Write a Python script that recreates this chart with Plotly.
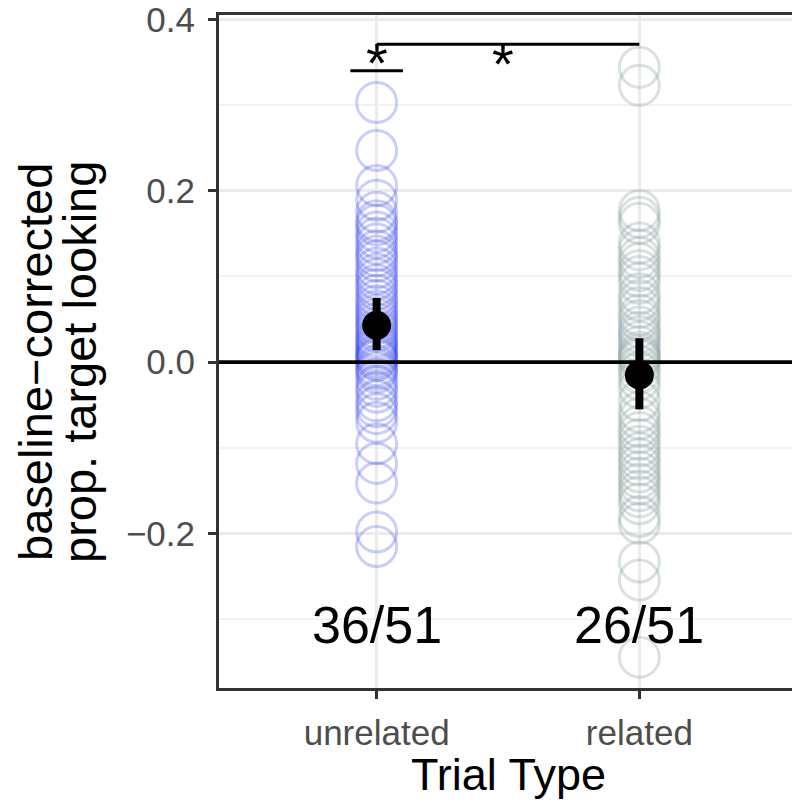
import plotly.graph_objects as go

categories = ["unrelated", "related"]

unrelated_vals = [0.303, 0.247, 0.206, 0.189, 0.175, 0.165, 0.160, 0.152, 0.145, 0.138,
                  0.130, 0.124, 0.118, 0.110, 0.103, 0.097, 0.090, 0.085, 0.078, 0.072,
                  0.066, 0.060, 0.055, 0.050, 0.045, 0.040, 0.036, 0.030, 0.026, 0.022,
                  0.018, 0.014, 0.010, 0.007, 0.004, 0.002,
                  -0.215, -0.198, -0.141, -0.118, -0.095, -0.070, -0.060, -0.052, -0.045,
                  -0.035, -0.028, -0.020, -0.012, -0.008, -0.004]

related_vals = [0.344, 0.323, 0.177, 0.169, 0.162, 0.139, 0.131, 0.122, 0.115, 0.107,
                0.100, 0.092, 0.080, 0.072, 0.064, 0.055, 0.049, 0.041, 0.035, 0.030,
                0.024, 0.018, 0.012, 0.008, 0.005, 0.002,
                -0.344, -0.254, -0.233, -0.188, -0.180, -0.165, -0.157, -0.150, -0.142,
                -0.135, -0.128, -0.120, -0.113, -0.106, -0.098, -0.090, -0.082, -0.075,
                -0.066, -0.058, -0.045, -0.030, -0.020, -0.012, -0.005]

means = [0.043, -0.015]
ci_low = [0.014, -0.055]
ci_high = [0.075, 0.028]

count_labels = ["36/51", "26/51"]
count_label_y = -0.307

# significance brackets: (x0, x1, y)
sig_short = (0.9, 1.1, 0.340)
sig_long = (1.0, 2.0, 0.371)
stars = [(1.0, 0.350), (1.48, 0.349)]

y_ticks = [-0.2, 0.0, 0.2, 0.4]
y_tick_text = ["\u22120.2", "0.0", "0.2", "0.4"]
y_minor = [-0.3, -0.1, 0.1, 0.3]

y_title_lines = ["baseline\u2212corrected", "prop. target looking"]
x_title = "Trial Type"

fig = go.Figure()

fig.add_trace(go.Scatter(
    x=[1] * len(unrelated_vals), y=unrelated_vals, mode="markers",
    marker=dict(symbol="circle-open", size=40, color="rgba(40,60,240,0.25)",
                line=dict(width=3, color="rgba(40,60,240,0.25)")),
    showlegend=False, hoverinfo="skip"))
fig.add_trace(go.Scatter(
    x=[2] * len(related_vals), y=related_vals, mode="markers",
    marker=dict(symbol="circle-open", size=40, color="rgba(140,165,165,0.33)",
                line=dict(width=3, color="rgba(140,165,165,0.33)")),
    showlegend=False, hoverinfo="skip"))

# zero line
fig.add_trace(go.Scatter(x=[0.4, 2.6], y=[0, 0], mode="lines",
                         line=dict(color="black", width=3.8),
                         showlegend=False, hoverinfo="skip"))

# error bars
for i in range(2):
    fig.add_trace(go.Scatter(x=[i + 1, i + 1], y=[ci_low[i], ci_high[i]], mode="lines",
                             line=dict(color="black", width=8),
                             showlegend=False, hoverinfo="skip"))
fig.add_trace(go.Scatter(x=[1, 2], y=means, mode="markers",
                         marker=dict(color="black", size=29),
                         showlegend=False, hoverinfo="skip"))

# significance lines
for (x0, x1, yy) in [sig_short, sig_long]:
    fig.add_trace(go.Scatter(x=[x0, x1], y=[yy, yy], mode="lines",
                             line=dict(color="black", width=3),
                             showlegend=False, hoverinfo="skip"))

for (sx, sy) in stars:
    fig.add_annotation(x=sx, y=sy, text="*", showarrow=False,
                       font=dict(size=56, color="black", family="Liberation Sans"),
                       yanchor="middle", xanchor="center")

for i, lab in enumerate(count_labels):
    fig.add_annotation(x=i + 1, y=count_label_y, text=lab, showarrow=False,
                       font=dict(size=52, color="black", family="Liberation Sans"),
                       yanchor="middle", xanchor="center")

# axis titles as annotations (tight line spacing)
for shift, line in zip([-183, -139], y_title_lines):
    fig.add_annotation(xref="paper", yref="paper", x=0, y=0.4844, xshift=shift,
                       text=line, textangle=-90, showarrow=False,
                       font=dict(size=47, color="black", family="Liberation Sans"),
                       xanchor="center", yanchor="middle")
fig.add_annotation(xref="paper", yref="paper", x=0.5, y=-0.129, text=x_title,
                   showarrow=False, font=dict(size=45, color="black", family="Liberation Sans"),
                   xanchor="center", yanchor="middle")

# page body has an 8px margin, so the figure is 792x800 to fill the 800x808 window
fig.update_layout(
    width=792, height=800,
    margin=dict(l=211, r=3, t=7, b=120),
    plot_bgcolor="white", paper_bgcolor="white",
    font=dict(family="Liberation Sans"),
    xaxis=dict(range=[0.4, 2.6], tickvals=[1, 2], ticktext=categories,
               tickfont=dict(size=35, color="#4D4D4D"), automargin=False,
               showgrid=True, gridcolor="#EBEBEB", gridwidth=2.5,
               zeroline=False, showline=True, mirror=True, linecolor="#333333", linewidth=3,
               ticks="outside", ticklen=8, tickwidth=3, tickcolor="#333333",
               ticklabelstandoff=4, ticklabeloverflow="allow"),
    yaxis=dict(range=[-0.380, 0.405], tickvals=y_ticks, ticktext=y_tick_text,
               tickfont=dict(size=35, color="#4D4D4D"), automargin=False,
               showgrid=True, gridcolor="#EBEBEB", gridwidth=2.5,
               minor=dict(tickvals=y_minor, showgrid=True,
                          gridcolor="#F2F2F2", gridwidth=1.5, ticks=""),
               zeroline=False, showline=True, mirror=True, linecolor="#333333", linewidth=3,
               ticks="outside", ticklen=8, tickwidth=3, tickcolor="#333333",
               ticklabelstandoff=6, ticklabeloverflow="allow"),
)

fig.write_html("out.html")
